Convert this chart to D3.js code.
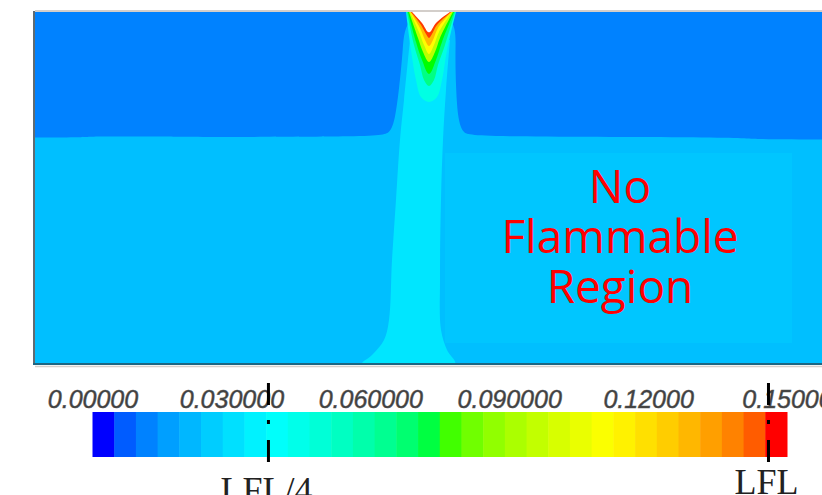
<html>
<head>
  <title>Hydrogen plume contour</title>
  <script src="https://cdn.jsdelivr.net/npm/d3@7"></script>
  <style>
    body { margin: 0; background: #fff; }
    svg text { pointer-events: none; }
  </style>
</head>
<body>
<div id="plot"></div>
<script type="text/javascript">

// colour bar
var barTicks = [0, 0.03, 0.06, 0.09, 0.12, 0.15];
var barTickLabels = ["0.00000", "0.030000", "0.060000", "0.090000", "0.12000", "0.15000"];
var bandCount = 32;
var markerNames = ["LFL/4", "LFL"];
var markerValues = [0.038, 0.146];

// field, coordinates in cm (domain 400 x 176)
var upperValue = 0.0097;
var lowerValue = 0.021;
var lowerBoundary = [[0,113.3],[26.5,113.3],[26.5,113.8],[70,113.8],[70,113.5],[172.5,113.5],
  [177.5,115.5],[180,122],[182,137],[184,157],[185,176],[211,176],[210,157],[210.5,137],
  [211.5,122],[214,115.5],[218.5,113.5],[356.5,113.5],[356.5,112.3],[400,112.3]];
var sideValue = 0.0226;
var sideBox = [[205,105.5],[378.5,105.5],[378.5,10.5],[205,10.5]];
var coreValue = 0.0305;
var coreShape = [[187.5,162],[184.5,132],[182.5,112],[180.5,82],[178.5,52],[177,22],[174.5,12],
  [168.5,4.5],[163.5,0],[210,0],[206,7],[203,17],[202.5,42],[203,82],[204,112],[205.5,137],[207.5,162]];
var plumeValues = [0.045, 0.065, 0.075, 0.095, 0.113, 0.13, 0.148];
var plumeShapes = [
  [[185.5,176],[188,157],[190.5,142],[193,133.5],[197,131],[201,133.5],[203.5,142],[206,157],[210.5,176]],
  [[186,176],[189.5,159.5],[192.5,149.5],[194.5,142],[197,139],[199.5,142],[201.5,149.5],[205,159.5],[210,176]],
  [[186.5,176],[190.5,161],[193.5,152],[197,145],[200.5,152],[203.5,161],[209.5,176]],
  [[187,176],[191.5,163],[194,156],[197,151],[200,156],[202.5,163],[209,176]],
  [[187.5,176],[192,166],[194.5,159.5],[197,155],[199.5,159.5],[202,166],[208.5,176]],
  [[187.75,176],[192.5,168],[195,162],[197,159],[199,162],[201.5,168],[208.25,176]],
  [[188,176],[193,169.5],[195.5,165],[197,163],[198.5,165],[201,169.5],[208,176]]
];
var inletShape = [[188.5,176],[193.5,170.5],[196.5,166],[197.5,166],[200.5,170.5],[207.5,176]];

var noteLines = ["No", "Flammable", "Region"];

var w = 822, h = 495;

function fluent(t) {
  t = Math.max(0, Math.min(1, t));
  var s = Math.min(3, Math.floor(t * 4)), u = t * 4 - s, r, g, b;
  if (s == 0) { r = 0; g = Math.sqrt(u); b = 1; }
  else if (s == 1) { r = 0; g = 1; b = Math.sqrt(1 - u); }
  else if (s == 2) { r = Math.sqrt(u); g = 1; b = 0; }
  else { r = 1; g = Math.sqrt(1 - u); b = 0; }
  return d3.rgb(r * 255, g * 255, b * 255) + "";
}

var color = d3.scaleSequential(fluent).domain([0, 0.15]);
var x = d3.scaleLinear().domain([0, 400]).range([35, 835]);
var y = d3.scaleLinear().domain([0, 176]).range([364, 12]);
var barX = d3.scaleLinear().domain([0, 0.15]).range([92.5, 787]);

var svg = d3.select("#plot").append("svg")
  .attr("width", w).attr("height", h);

svg.append("clipPath").attr("id", "dom")
  .append("rect")
  .attr("x", x(0)).attr("y", y(176))
  .attr("width", x(400) - x(0)).attr("height", y(0) - y(176));

var smooth = d3.line()
  .x(function(d) { return x(d[0]); })
  .y(function(d) { return y(d[1]); })
  .curve(d3.curveCatmullRom.alpha(0.5));
var soft = d3.line()
  .x(function(d) { return x(d[0]); })
  .y(function(d) { return y(d[1]); })
  .curve(d3.curveBasis);
var straight = d3.line()
  .x(function(d) { return x(d[0]); })
  .y(function(d) { return y(d[1]); });

var field = svg.append("g").attr("clip-path", "url(#dom)");

field.append("rect")
  .attr("x", x(0)).attr("y", y(176))
  .attr("width", x(400) - x(0)).attr("height", y(0) - y(176))
  .attr("fill", color(upperValue));

field.append("path")
  .attr("d", soft(lowerBoundary) + "L" + x(400) + "," + y(0) + "L" + x(0) + "," + y(0) + "Z")
  .attr("fill", color(lowerValue));

field.append("path")
  .attr("d", straight(sideBox) + "Z")
  .attr("fill", color(sideValue));

field.append("path")
  .attr("d", smooth(coreShape) + "Z")
  .attr("fill", color(coreValue));

field.selectAll(".band")
  .data(plumeShapes)
  .enter()
  .append("path")
  .attr("class", "band")
  .attr("d", function(d) { return smooth(d) + "Z"; })
  .attr("fill", function(d, i) { return color(plumeValues[i]); });

field.append("path")
  .attr("d", smooth(inletShape) + "Z")
  .attr("fill", "#ffffff");

// frame
svg.append("line").attr("x1", x(0)).attr("x2", w).attr("y1", 11).attr("y2", 11)
  .attr("stroke", "#c4beb8").attr("stroke-width", 1.5);
svg.append("line").attr("x1", 34).attr("x2", 34).attr("y1", 11).attr("y2", 365)
  .attr("stroke", "#5f6b72").attr("stroke-width", 2);
svg.append("line").attr("x1", 33).attr("x2", w).attr("y1", 364).attr("y2", 364)
  .attr("stroke", "#1e6682").attr("stroke-width", 2);
svg.append("line").attr("x1", 35).attr("x2", w).attr("y1", 366.5).attr("y2", 366.5)
  .attr("stroke", "#d6d0cc").attr("stroke-width", 1.5);

// note
svg.append("g").selectAll("text")
  .data(noteLines)
  .enter()
  .append("text")
  .text(function(d) { return d; })
  .attr("x", 620)
  .attr("y", function(d, i) { return 203 + i * 50; })
  .attr("text-anchor", "middle")
  .attr("font-family", "Open Sans, sans-serif")
  .attr("font-size", "46px")
  .attr("fill", "#ff0000");

// colour bar
var bands = d3.range(bandCount);
svg.append("g").selectAll("rect")
  .data(bands)
  .enter()
  .append("rect")
  .attr("x", function(k) { return barX(k * 0.15 / bandCount); })
  .attr("y", 412)
  .attr("width", function(k) { return barX((k + 1) * 0.15 / bandCount) - barX(k * 0.15 / bandCount) + 0.5; })
  .attr("height", 45)
  .attr("fill", function(k) { return color(k / (bandCount - 1) * 0.15); });

var axis = d3.axisTop(barX)
  .tickValues(barTicks)
  .tickFormat(function(d, i) { return barTickLabels[i]; })
  .tickSize(0)
  .tickPadding(0);

var ax = svg.append("g").attr("transform", "translate(0,408)").call(axis);
ax.select(".domain").remove();
ax.selectAll("text")
  .attr("font-family", "Liberation Sans, Arial, sans-serif")
  .attr("font-style", "italic")
  .attr("font-size", "25px")
  .attr("fill", "#404040")
  .attr("stroke", "#555")
  .attr("stroke-width", 0.5)
  .attr("dy", 0);

svg.append("g").selectAll("line")
  .data(markerValues)
  .enter()
  .append("line")
  .attr("x1", function(d) { return barX(d); })
  .attr("x2", function(d) { return barX(d); })
  .attr("y1", 383).attr("y2", 462)
  .attr("stroke", "#000")
  .attr("stroke-width", 3)
  .attr("stroke-dasharray", "22 15 4 16 22");

svg.append("g").selectAll("text")
  .data(markerValues)
  .enter()
  .append("text")
  .text(function(d, i) { return markerNames[i]; })
  .attr("x", function(d) { return barX(d) - 2; })
  .attr("y", function(d, i) { return i == 0 ? 502 : 494; })
  .attr("text-anchor", "middle")
  .attr("font-family", "Liberation Serif, serif")
  .attr("font-size", "36px")
  .attr("fill", "#222");

</script>
</body>
</html>
